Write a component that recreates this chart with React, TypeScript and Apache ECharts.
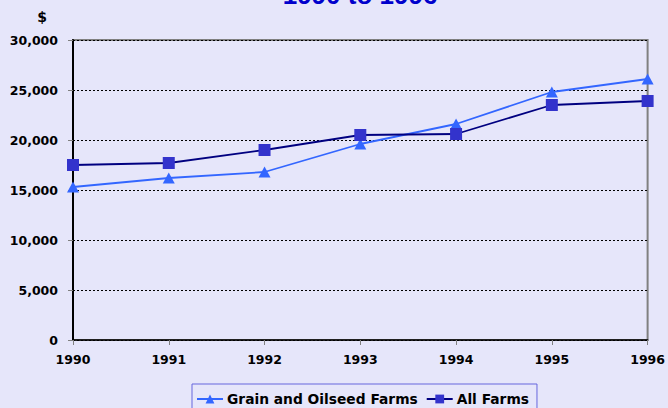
import React, { useEffect, useRef } from "react";
import * as echarts from "echarts";

const years = ["1990", "1991", "1992", "1993", "1994", "1995", "1996"];
const grainValues = [15300, 16200, 16800, 19600, 21600, 24800, 26100];
const allFarmsValues = [17500, 17700, 19000, 20500, 20600, 23500, 23900];
const yTicks = [0, 5000, 10000, 15000, 20000, 25000, 30000];

const labelFont = "'DejaVu Sans', sans-serif";

export default function App() {
  const ref = useRef<HTMLDivElement>(null);
  useEffect(() => {
    document.body.style.margin = "0";
    const chart = echarts.init(ref.current!, null, { renderer: "svg" });
    chart.setOption({
      animation: false,
      backgroundColor: "#E6E6FA",
      grid: {
        left: 73,
        right: 18,
        top: 40,
        bottom: 68,
        show: true,
        borderColor: "#808080",
        borderWidth: 2,
        backgroundColor: "transparent",
      },
      graphic: [
        {
          type: "text",
          x: 360,
          y: 8,
          style: {
            text: "1990 to 1996",
            font: "bold 26px 'Liberation Sans', Arial, sans-serif",
            fill: "#0000CC",
            textAlign: "center",
            textVerticalAlign: "bottom",
          },
        },
        {
          type: "text",
          x: 42,
          y: 17,
          style: {
            text: "$",
            font: "bold 14px " + labelFont,
            fill: "#000",
            textAlign: "center",
            textVerticalAlign: "middle",
          },
        },
      ],
      legend: {
        left: 192,
        top: 384,
        padding: [8, 8, 8, 4],
        itemWidth: 26,
        itemHeight: 11,
        itemGap: 8,
        borderColor: "#6666DD",
        borderWidth: 1,
        textStyle: {
          fontFamily: labelFont,
          fontWeight: "bold",
          fontSize: 13.8,
          color: "#000",
          padding: [0, 0, 0, -1],
        },
        data: ["Grain and Oilseed Farms", "All Farms"],
      },
      xAxis: {
        type: "category",
        data: years,
        boundaryGap: false,
        axisLine: { lineStyle: { color: "#000", width: 1.5 } },
        axisTick: { show: true, length: 5, lineStyle: { color: "#808080" } },
        axisLabel: {
          margin: 13,
          fontFamily: labelFont,
          fontWeight: "bold",
          fontSize: 12.5,
          color: "#000",
        },
        splitLine: { show: false },
      },
      yAxis: {
        type: "value",
        min: 0,
        max: 30000,
        interval: 5000,
        axisLine: { show: true, lineStyle: { color: "#000", width: 2 } },
        axisTick: { show: true, length: 5, lineStyle: { color: "#808080" } },
        axisLabel: {
          margin: 15,
          fontFamily: labelFont,
          fontWeight: "bold",
          fontSize: 12.5,
          color: "#000",
          formatter: (v: number) =>
            yTicks.includes(v) ? v.toLocaleString("en-US") : "",
        },
        splitLine: {
          show: true,
          lineStyle: { color: "#000", type: [2, 2], width: 1 },
        },
      },
      series: [
        {
          name: "Grain and Oilseed Farms",
          type: "line",
          data: grainValues,
          symbol: "triangle",
          symbolSize: [12, 11],
          lineStyle: { color: "#3366FF", width: 1.8 },
          itemStyle: { color: "#3366FF" },
          z: 3,
        },
        {
          name: "All Farms",
          type: "line",
          data: allFarmsValues,
          symbol: "rect",
          symbolSize: 12,
          lineStyle: { color: "#000080", width: 1.8 },
          itemStyle: { color: "#3333CC" },
          z: 4,
        },
      ],
    });
    return () => chart.dispose();
  }, []);
  return (
    <div
      ref={ref}
      style={{ position: "fixed", left: 0, top: 0, width: 668, height: 408 }}
    />
  );
}
